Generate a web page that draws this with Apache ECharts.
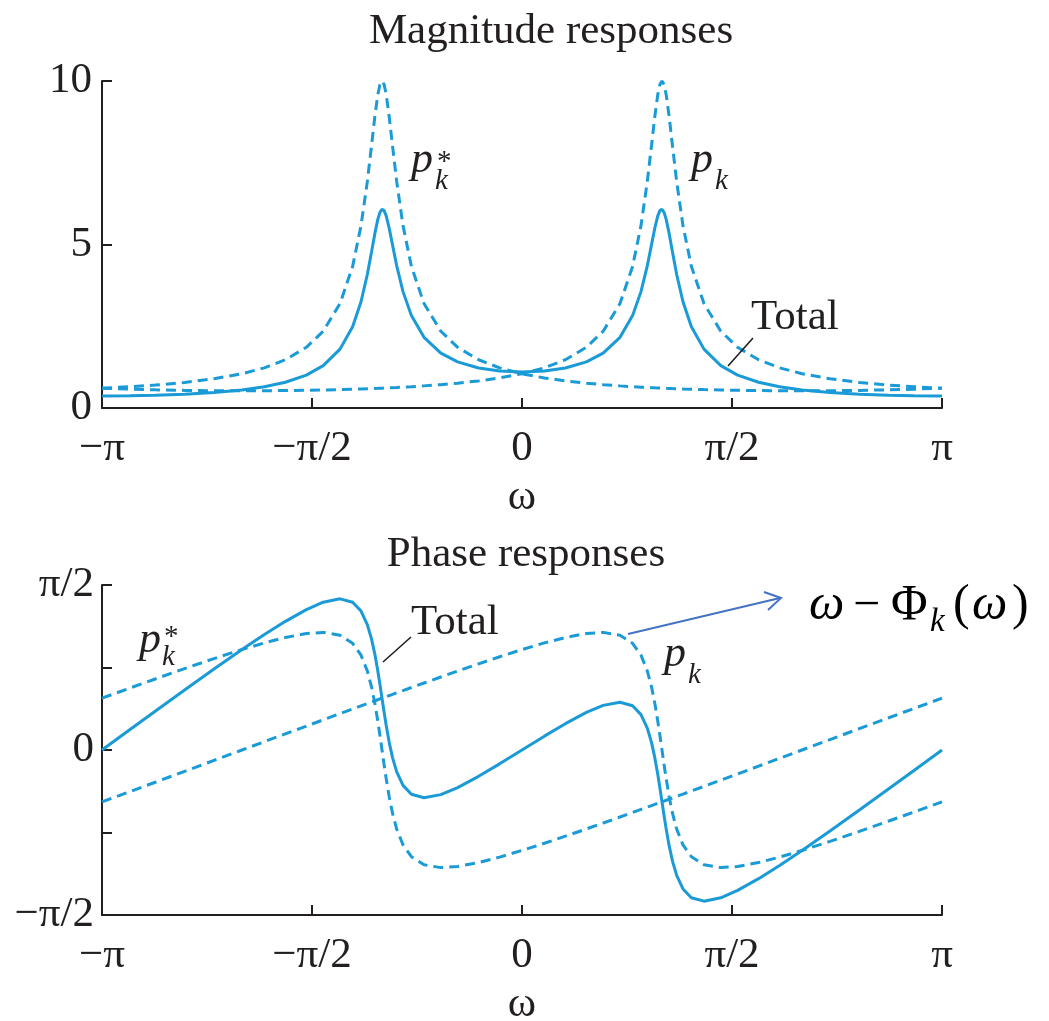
<!DOCTYPE html>
<html>
<head>
<meta charset="utf-8">
<script src="https://cdn.jsdelivr.net/npm/echarts@6.0.0/dist/echarts.min.js"></script>
<style>
html,body{margin:0;padding:0;background:#fff;}
#chart{width:1049px;height:1021px;}
</style>
</head>
<body>
<div id="chart"></div>
<script>
// omega in units of pi
const omega = [-1, -0.9333, -0.8733, -0.8033, -0.7333, -0.6667, -0.6133, -0.5633, -0.5133, -0.4733, -0.4333, -0.4033, -0.3833, -0.3683, -0.3583, -0.3503, -0.3433, -0.3383, -0.3333, -0.3283, -0.3233, -0.3163, -0.3083, -0.2983, -0.2833, -0.2633, -0.2333, -0.1933, -0.1533, -0.1033, -0.0533, 0, 0.0533, 0.1033, 0.1533, 0.1933, 0.2333, 0.2633, 0.2833, 0.2983, 0.3083, 0.3163, 0.3233, 0.3283, 0.3333, 0.3383, 0.3433, 0.3503, 0.3583, 0.3683, 0.3833, 0.4033, 0.4333, 0.4733, 0.5133, 0.5633, 0.6133, 0.6667, 0.7333, 0.8033, 0.8733, 0.9333, 1];

const magPk = [0.6075, 0.5760, 0.5552, 0.5387, 0.5292, 0.5263, 0.5282, 0.5333, 0.5419, 0.5515, 0.5636, 0.5746, 0.5829, 0.5897, 0.5945, 0.5985, 0.6021, 0.6047, 0.6075, 0.6102, 0.6131, 0.6171, 0.6220, 0.6282, 0.6382, 0.6525, 0.6766, 0.7141, 0.7592, 0.8292, 0.9195, 1.048, 1.228, 1.475, 1.856, 2.348, 3.193, 4.329, 5.576, 6.922, 8.020, 8.921, 9.583, 9.891, 10, 9.891, 9.583, 8.921, 8.020, 6.922, 5.576, 4.329, 3.193, 2.348, 1.856, 1.475, 1.228, 1.048, 0.8931, 0.7807, 0.7009, 0.6501, 0.6075];

const magPkConj = [0.6075, 0.6501, 0.7009, 0.7807, 0.8931, 1.048, 1.228, 1.475, 1.856, 2.348, 3.193, 4.329, 5.576, 6.922, 8.020, 8.921, 9.583, 9.891, 10, 9.891, 9.583, 8.921, 8.020, 6.922, 5.576, 4.329, 3.193, 2.348, 1.856, 1.475, 1.228, 1.048, 0.9195, 0.8292, 0.7592, 0.7141, 0.6766, 0.6525, 0.6382, 0.6282, 0.6220, 0.6171, 0.6131, 0.6102, 0.6075, 0.6047, 0.6021, 0.5985, 0.5945, 0.5897, 0.5829, 0.5746, 0.5636, 0.5515, 0.5419, 0.5333, 0.5282, 0.5263, 0.5292, 0.5387, 0.5552, 0.5760, 0.6075];

const magTotal = [0.369, 0.374, 0.389, 0.421, 0.473, 0.552, 0.649, 0.787, 1.006, 1.295, 1.800, 2.487, 3.250, 4.082, 4.768, 5.339, 5.770, 5.981, 6.075, 6.036, 5.875, 5.505, 4.988, 4.348, 3.559, 2.825, 2.160, 1.677, 1.409, 1.223, 1.129, 1.098, 1.129, 1.223, 1.409, 1.677, 2.160, 2.825, 3.559, 4.348, 4.988, 5.505, 5.875, 6.036, 6.075, 5.981, 5.770, 5.339, 4.768, 4.082, 3.250, 2.487, 1.800, 1.295, 1.006, 0.787, 0.649, 0.552, 0.473, 0.421, 0.389, 0.374, 0.369];

// phases in radians
const phasePk = [-0.4933, -0.3954, -0.3070, -0.2033, -0.0992, 0, 0.0793, 0.1536, 0.2279, 0.2872, 0.3463, 0.3905, 0.4202, 0.4415, 0.4563, 0.4681, 0.4785, 0.4859, 0.4933, 0.5005, 0.5078, 0.5180, 0.5296, 0.5442, 0.5659, 0.5949, 0.6380, 0.6951, 0.7515, 0.8206, 0.8878, 0.9563, 1.0196, 1.0713, 1.1090, 1.1197, 1.0929, 1.0160, 0.9028, 0.7527, 0.6020, 0.4428, 0.2744, 0.1403, 0, -0.1403, -0.2744, -0.4428, -0.6020, -0.7527, -0.9028, -1.0160, -1.0929, -1.1197, -1.1090, -1.0713, -1.0196, -0.9563, -0.8702, -0.7748, -0.6762, -0.5901, -0.4933];

const phasePkConj = [0.4933, 0.5901, 0.6762, 0.7748, 0.8702, 0.9563, 1.0196, 1.0713, 1.1090, 1.1197, 1.0929, 1.0160, 0.9028, 0.7527, 0.6020, 0.4428, 0.2744, 0.1403, 0, -0.1403, -0.2744, -0.4428, -0.6020, -0.7527, -0.9028, -1.0160, -1.0929, -1.1197, -1.1090, -1.0713, -1.0196, -0.9563, -0.8878, -0.8206, -0.7515, -0.6951, -0.6380, -0.5949, -0.5659, -0.5442, -0.5296, -0.5180, -0.5078, -0.5005, -0.4933, -0.4859, -0.4785, -0.4681, -0.4563, -0.4415, -0.4202, -0.3905, -0.3463, -0.2872, -0.2279, -0.1536, -0.0793, 0, 0.0992, 0.2033, 0.3070, 0.3954, 0.4933];

const phaseTotal = [0, 0.1947, 0.3692, 0.5715, 0.7710, 0.9563, 1.0989, 1.2249, 1.3369, 1.4069, 1.4392, 1.4065, 1.3230, 1.1942, 1.0583, 0.9109, 0.7529, 0.6262, 0.4933, 0.3602, 0.2334, 0.0752, -0.0724, -0.2085, -0.3369, -0.4211, -0.4549, -0.4246, -0.3575, -0.2507, -0.1318, 0, 0.1318, 0.2507, 0.3575, 0.4246, 0.4549, 0.4211, 0.3369, 0.2085, 0.0724, -0.0752, -0.2334, -0.3602, -0.4933, -0.6262, -0.7529, -0.9109, -1.0583, -1.1942, -1.3230, -1.4065, -1.4392, -1.4069, -1.3369, -1.2249, -1.0989, -0.9563, -0.7710, -0.5715, -0.3692, -0.1947, 0];

const xTickValues = [-1, -0.5, 0, 0.5, 1];
const xTickLabels = ['\u2212\u03c0', '\u2212\u03c0/2', '0', '\u03c0/2', '\u03c0'];
const phaseTickValues = [-0.5, 0, 0.5];           // units of pi
const phaseTickLabels = ['\u2212\u03c0/2', '0', '\u03c0/2'];
const titles = ['Magnitude responses', 'Phase responses'];

const BLUE = '#1a9ad6';
const INK = '#231f20';
const FONT = '"Liberation Serif", "Times New Roman", serif';

function lbl(values, labels, v) {
  for (let i = 0; i < values.length; i++) if (Math.abs(values[i] - v) < 1e-6) return labels[i];
  return '';
}
function pairs(ys, scale) { return omega.map((x, i) => [x, ys[i] * (scale || 1)]); }

const axisLine = { show: true, onZero: false, lineStyle: { color: INK, width: 2 } };
const axisTick = { show: true, inside: true, length: 10, lineStyle: { color: INK, width: 2 } };
const labelStyle = { color: INK, fontFamily: FONT, fontSize: 43 };

function xAxis(gi) {
  return {
    type: 'value', gridIndex: gi, min: -1, max: 1, interval: 0.5,
    axisLine, axisTick, splitLine: { show: false },
    axisLabel: Object.assign({ margin: 19, showMinLabel: true, showMaxLabel: true,
      formatter: v => lbl(xTickValues, xTickLabels, v) }, labelStyle),
    name: '\u03c9', nameLocation: 'middle', nameGap: 68,
    nameTextStyle: { color: INK, fontFamily: FONT, fontSize: 43 }
  };
}

const lineBase = (name, xi, data, dashed) => ({
  name, type: 'line', xAxisIndex: xi, yAxisIndex: xi, data,
  showSymbol: false, smooth: false, clip: false,
  lineStyle: { color: BLUE, width: 3, type: dashed ? [10, 6] : 'solid' },
  z: dashed ? 2 : 3
});

const txt = (x, y, text, size, italic, color, family) => ({
  type: 'text', x, y, z: 100,
  style: { text, fill: color || INK, fontFamily: family || FONT, fontSize: size,
    fontStyle: italic ? 'italic' : 'normal', verticalAlign: 'middle', align: 'left' }
});

const option = {
  animation: false,
  backgroundColor: '#fff',
  title: [
    { text: titles[0], left: 546, top: 5, textAlign: 'center',
      textStyle: { fontFamily: FONT, fontSize: 43, fontWeight: 'normal', color: INK } },
    { text: titles[1], left: 521, top: 528, textAlign: 'center',
      textStyle: { fontFamily: FONT, fontSize: 43, fontWeight: 'normal', color: INK } }
  ],
  grid: [
    { left: 102, width: 840, top: 81, height: 327, containLabel: false, outerBoundsMode: 'none' },
    { left: 102, width: 840, top: 585, height: 330, containLabel: false, outerBoundsMode: 'none' }
  ],
  xAxis: [xAxis(0), xAxis(1)],
  yAxis: [
    { type: 'value', gridIndex: 0, min: 0, max: 10, interval: 5,
      axisLine, axisTick, splitLine: { show: false },
      axisLabel: Object.assign({ margin: 10 }, labelStyle) },
    { type: 'value', gridIndex: 1, min: -0.5, max: 0.5, interval: 0.25,
      axisLine, axisTick, splitLine: { show: false },
      axisLabel: Object.assign({ margin: 8, formatter: v => lbl(phaseTickValues, phaseTickLabels, v) }, labelStyle) }
  ],
  series: [
    lineBase('|p_k| magnitude', 0, pairs(magPk), true),
    lineBase('|p_k*| magnitude', 0, pairs(magPkConj), true),
    lineBase('Total magnitude', 0, pairs(magTotal), false),
    lineBase('p_k phase', 1, pairs(phasePk, 1 / Math.PI), true),
    lineBase('p_k* phase', 1, pairs(phasePkConj, 1 / Math.PI), true),
    lineBase('Total phase', 1, pairs(phaseTotal, 1 / Math.PI), false)
  ],
  graphic: [
    // top panel labels
    txt(411, 160, 'p', 44, true), txt(435, 181, 'k', 29, true), txt(437, 162, '*', 29, false),
    txt(691, 160, 'p', 44, true), txt(715, 181, 'k', 29, true),
    txt(751, 318, 'Total', 43, false),
    { type: 'line', z: 100, shape: { x1: 728, y1: 366, x2: 753, y2: 338 }, style: { stroke: INK, lineWidth: 1.6 } },
    // bottom panel labels
    txt(139, 640, 'p', 44, true), txt(162, 657, 'k', 29, true), txt(164, 637, '*', 29, false),
    txt(664, 654, 'p', 44, true), txt(688, 675, 'k', 29, true),
    txt(411, 623, 'Total', 43, false),
    { type: 'line', z: 100, shape: { x1: 383, y1: 662, x2: 411, y2: 637 }, style: { stroke: INK, lineWidth: 1.6 } },
    // arrow annotation
    { type: 'line', z: 100, shape: { x1: 628, y1: 634, x2: 780, y2: 598 }, style: { stroke: '#4472c4', lineWidth: 2 } },
    { type: 'polyline', z: 100, shape: { points: [[764, 592], [781, 598], [768, 610]] }, style: { stroke: '#4472c4', lineWidth: 2, fill: null } },
    txt(809, 606, '\u03c9', 50, true, '#000'),
    txt(853, 606, '\u2212', 48, false, '#000'),
    txt(891, 606, '\u03a6', 50, false, '#000'),
    txt(930, 622, 'k', 33, true, '#000'),
    txt(953, 606, '(', 50, false, '#000'),
    txt(972, 606, '\u03c9', 50, true, '#000'),
    txt(1012, 606, ')', 50, false, '#000')
  ]
};

const chart = echarts.init(document.getElementById('chart'), null, { renderer: 'canvas' });
chart.setOption(option);
</script>
</body>
</html>
